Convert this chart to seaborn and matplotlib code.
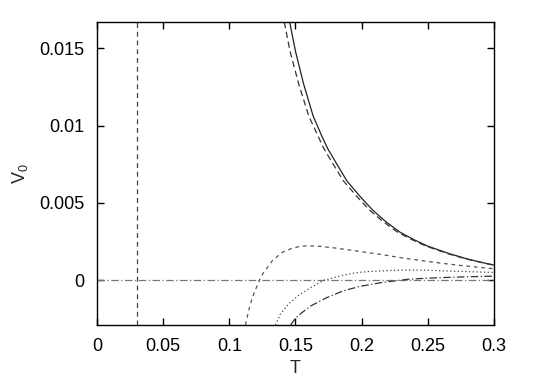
import pandas as pd
import matplotlib.pyplot as plt
import seaborn as sns

# === values
T_solid = [0.1456, 0.150, 0.1561, 0.1634, 0.170, 0.1744, 0.182, 0.189, 0.200, 0.2085,
           0.218, 0.229, 0.240, 0.250, 0.2668, 0.280, 0.290, 0.300]
V_solid = [0.0167, 0.0148, 0.0127, 0.0106, 0.0093, 0.0085, 0.0074, 0.0064, 0.0053, 0.00452,
           0.0038, 0.0031, 0.0026, 0.0022, 0.0017, 0.00137, 0.00116, 0.00098]

T_long = [0.1415, 0.1459, 0.1524, 0.1601, 0.1715, 0.1792, 0.1864, 0.1976, 0.2061, 0.216,
          0.2272, 0.2385, 0.2487, 0.2657, 0.279, 0.300]
V_long = [0.0167, 0.0148, 0.0127, 0.0106, 0.0085, 0.0074, 0.0064, 0.0053, 0.00452, 0.0038,
          0.0031, 0.0026, 0.0022, 0.0017, 0.00137, 0.00096]

T_short = [0.1122, 0.1145, 0.1175, 0.1227, 0.1251, 0.1290, 0.1324, 0.1398, 0.147, 0.153,
           0.159, 0.167, 0.180, 0.190, 0.200, 0.215, 0.229, 0.245, 0.260, 0.275, 0.290, 0.300]
V_short = [-0.0029, -0.0020, -0.0011, 0.0, 0.00039, 0.00085, 0.00125, 0.00179, 0.00205, 0.00218,
           0.00222, 0.00220, 0.00208, 0.00196, 0.00184, 0.00166, 0.00146, 0.00127, 0.00110, 0.00095,
           0.00082, 0.00074]

T_dot = [0.1349, 0.1385, 0.1446, 0.152, 0.1617, 0.1715, 0.186, 0.1956, 0.2056, 0.220,
         0.2349, 0.250, 0.270, 0.285, 0.300]
V_dot = [-0.0029, -0.0022, -0.00155, -0.00101, -0.00047, 0.0, 0.00032, 0.00048, 0.00056, 0.00062,
         0.00066, 0.00064, 0.00058, 0.00054, 0.00050]

T_dashdot = [0.1463, 0.150, 0.1544, 0.1617, 0.1739, 0.1861, 0.1983, 0.2154, 0.2349, 0.250,
             0.265, 0.280, 0.300]
V_dashdot = [-0.0029, -0.00245, -0.00213, -0.00166, -0.00112, -0.00069, -0.00041, -0.00015, 0.00006, 0.00013,
             0.00018, 0.00022, 0.00026]

T_vline = 0.03
V_hline = 0.0

x_ticks = [0, 0.05, 0.1, 0.15, 0.2, 0.25, 0.3]
x_ticklabels = ["0", "0.05", "0.1", "0.15", "0.2", "0.25", "0.3"]
y_ticks = [0, 0.005, 0.01, 0.015]
y_ticklabels = ["0", "0.005", "0.01", "0.015"]

# === style
sns.set_theme(style="ticks")
plt.rcParams["font.family"] = ["Liberation Sans", "DejaVu Sans"]
plt.rcParams["mathtext.default"] = "regular"

fig = plt.figure(figsize=(5.38, 3.78), dpi=100)
ax = fig.add_axes([0.1803, 0.1402, 0.7379, 0.8016])

ax.axvline(T_vline, color="#444444", lw=0.9, linestyle=(0, (4, 3)))
ax.axhline(V_hline, color="#777777", lw=0.9, linestyle=(0, (6, 2, 1, 2)))

curves = [
    (T_solid, V_solid, "-", "#222222"),
    (T_long, V_long, (0, (5, 3)), "#333333"),
    (T_short, V_short, (0, (3, 3)), "#555555"),
    (T_dot, V_dot, (0, (1, 2)), "#444444"),
    (T_dashdot, V_dashdot, (0, (6, 2, 1, 2)), "#333333"),
]
for tt, vv, ls, col in curves:
    sns.lineplot(x=tt, y=vv, ax=ax, color=col, lw=0.9, linestyle=ls,
                 estimator=None, sort=False)

ax.set_xlim(0, 0.3)
ax.set_ylim(-0.0029, 0.0167)
ax.set_xticks(x_ticks, x_ticklabels)
ax.set_yticks(y_ticks, y_ticklabels)
ax.tick_params(direction="in", length=5, width=1, top=True, right=True,
               labelsize=13, colors="black", pad=9)
for sp in ax.spines.values():
    sp.set_linewidth(1)
    sp.set_color("black")

ax.set_xlabel("T", fontsize=13, labelpad=4)
ax.set_ylabel("V$_0$", fontsize=13, labelpad=7)

fig.savefig("out.png", dpi=100)
